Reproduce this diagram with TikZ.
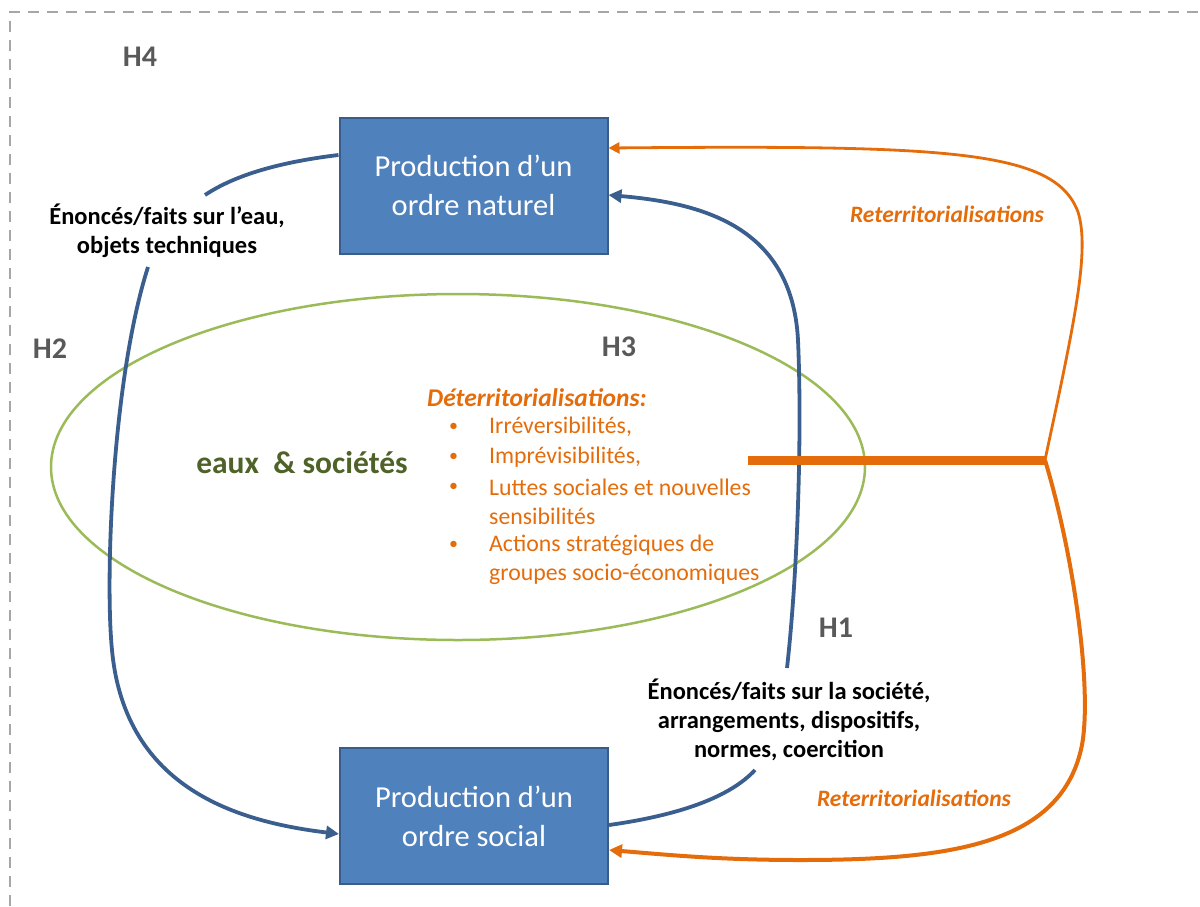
\documentclass[tikz,border=0pt]{standalone}
\usepackage{fontspec}
\setmainfont{Carlito}
\usetikzlibrary{arrows.meta,shapes.geometric}
\definecolor{boxfill}{HTML}{4F81BD}
\definecolor{boxline}{HTML}{385D8A}
\definecolor{bluearrow}{HTML}{3A5F8E}
\definecolor{orng}{HTML}{E46C0A}
\definecolor{grn}{HTML}{9BBB59}
\definecolor{dgrn}{HTML}{4F6228}
\definecolor{hgray}{HTML}{595959}
\definecolor{frame}{HTML}{A6A6A6}
\tikzset{
  prodbox/.style={draw=boxline, line width=2pt, fill=boxfill, minimum width=268pt, minimum height=136pt, text=white, align=center, font=\fontsize{30.5}{39}\selectfont, inner sep=0pt},
  hlabel/.style={text=hgray, font=\bfseries\fontsize{30}{34}\selectfont, inner sep=0pt},
  blab/.style={text=black, align=center, font=\bfseries\fontsize{24.5}{29}\selectfont, inner sep=0pt},
  rlab/.style={text=orng, font=\bfseries\itshape\fontsize{23.5}{27}\selectfont, inner sep=0pt},
  bluecurve/.style={draw=bluearrow, line width=3.8pt},
  bluetip/.style={-{Triangle[length=13pt,width=13pt]}},
  orthin/.style={draw=orng, line width=2.8pt},
  orthick/.style={draw=orng, line width=4pt},
}
\begin{document}
\begin{tikzpicture}[x=1pt,y=-1pt]
\useasboundingbox (0,0) rectangle (1200,906);
% frame
\draw[frame, line width=2.5pt, dash pattern=on 11pt off 8pt] (10,906) -- (10,12) -- (1200,12);
% ellipse
\node[draw=grn, line width=2.5pt, ellipse, minimum width=814pt, minimum height=346pt, inner sep=0pt] (eau) at (458,467) {};
% boxes
\node[prodbox] (nat) at (473.5,185.5) {Production d’un\\ordre naturel};
\node[prodbox] (soc) at (474,816) {Production d’un\\ordre social};
% labels
\node[hlabel] (h4) at (140,57) {H4};
\node[hlabel] (h2) at (50,349) {H2};
\node[hlabel] (h3) at (619,347) {H3};
\node[hlabel] (h1) at (836,628) {H1};
\node[blab] (lab1) at (167,231) {Énoncés/faits sur l’eau,\\objets techniques};
\node[blab] (lab2) at (789,720) {Énoncés/faits sur la société,\\arrangements, dispositifs,\\normes, coercition};
\node[text=dgrn, font=\bfseries\fontsize{31.5}{36}\selectfont, inner sep=0pt] (es) at (302,463) {eaux\ \ \&\ sociétés};
\node[rlab] (r1) at (947,214) {Reterritorialisations};
\node[rlab] (r2) at (914,798) {Reterritorialisations};
% deterritorialisations block
\node[anchor=west, text=orng, font=\bfseries\itshape\fontsize{25.5}{30}\selectfont, inner sep=0pt] (det) at (427,398) {Déterritorialisations:};
\begin{scope}[every node/.style={anchor=west, text=orng, font=\fontsize{23.8}{28}\selectfont, inner sep=0pt}]
\node[font=\fontsize{18}{20}\selectfont] (b1) at (449,427) {•};
\node (t1) at (489,427) {Irréversibilités,};
\node[font=\fontsize{18}{20}\selectfont] (b2) at (449,457) {•};
\node (t2) at (489,457) {Imprévisibilités,};
\node[font=\fontsize{18}{20}\selectfont] (b3) at (449,487) {•};
\node (t3) at (489,487) {Luttes sociales et nouvelles};
\node (t3b) at (489,516) {sensibilités};
\node[font=\fontsize{18}{20}\selectfont] (b4) at (449,545) {•};
\node (t4) at (489,545) {Actions stratégiques de};
\node (t4b) at (489,574) {groupes socio-économiques};
\end{scope}
% coordinates
\coordinate (a1) at (205,195);
\coordinate (a2) at (148,267);
\coordinate (c1) at (787,668);
\coordinate (d1) at (755,770);
\coordinate (barL) at (748,460);
\coordinate (barR) at (1045,460);
% blue curves
\draw[bluecurve] (nat.west |- 0,155) .. controls (280,162) and (235,175) .. (a1);
\draw[bluecurve, bluetip] (a2) .. controls (112,380) and (105,580) .. (112,650) .. controls (125,790) and (240,822) .. (soc.west |- 0,834);
\draw[bluecurve, bluetip] (c1) .. controls (798,570) and (802,430) .. (798,340) .. controls (792,225) and (700,203) .. (nat.east |- 0,195);
\draw[bluecurve] (soc.east |- 0,825) .. controls (680,815) and (730,797) .. (d1);
% orange
\draw[draw=orng, line width=9pt] (barL) -- (barR);
\draw[orthin, -{Triangle[length=11pt,width=11pt]}] (barR) .. controls (1075,320) and (1090,250) .. (1078,212) .. controls (1055,150) and (950,145) .. (nat.east |- 0,148);
\draw[orthick, -{Triangle[length=13pt,width=13pt]}] (barR) .. controls (1075,560) and (1092,690) .. (1082,745) .. controls (1062,845) and (950,860) .. (800,860) .. controls (720,860) and (670,855) .. (soc.east |- 0,850);
\end{tikzpicture}
\end{document}
